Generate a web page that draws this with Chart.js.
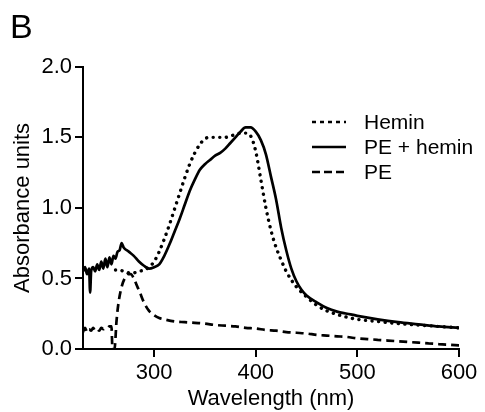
<!DOCTYPE html>
<html>
<head>
<meta charset="utf-8">
<script src="https://cdn.jsdelivr.net/npm/chart.js@4/dist/chart.umd.min.js"></script>
<style>
    body { margin: 0; background: #fff; }
</style>
</head>
<body>
<div id="container">
    <canvas id="SpectraChart" width="485" height="412"></canvas>
</div>

<script>
    // absorbance spectra (wavelength in nm)
    var seriesNames = ['Hemin', 'PE + hemin', 'PE'];

    var heminWl = [262, 266, 270, 275, 280, 285, 290, 295, 300, 305, 310, 315, 320, 325, 330, 335, 340, 345, 350, 355,
        360, 365, 370, 375, 380, 385, 390, 395, 400, 405, 410, 415, 420, 425, 430, 435, 440, 450, 460, 470,
        480, 490, 500, 520, 540, 560, 580, 600];
    var heminAbs = [0.56, 0.56, 0.55, 0.54, 0.54, 0.55, 0.56, 0.58, 0.62, 0.69, 0.78, 0.88, 0.99, 1.10, 1.21, 1.31, 1.39, 1.45, 1.49, 1.50,
        1.50, 1.50, 1.50, 1.51, 1.52, 1.53, 1.53, 1.51, 1.40, 1.20, 1.00, 0.84, 0.72, 0.63, 0.55, 0.49, 0.44, 0.37, 0.31, 0.27,
        0.245, 0.225, 0.21, 0.195, 0.18, 0.17, 0.16, 0.15];

    var peHeminWl = [230, 232, 234, 236, 237, 238, 240, 242, 244, 246, 248, 250, 252, 254, 256, 258, 260, 262, 264, 266,
        268, 270, 275, 280, 285, 290, 295, 300, 305, 310, 315, 320, 325, 330, 335, 340, 345, 350, 355, 360,
        365, 370, 375, 380, 385, 390, 395, 400, 405, 410, 415, 420, 425, 430, 435, 440, 445, 450, 460, 470,
        480, 490, 500, 520, 540, 560, 580, 600];
    var peHeminAbs = [0.55, 0.58, 0.53, 0.57, 0.40, 0.55, 0.58, 0.55, 0.60, 0.56, 0.62, 0.57, 0.64, 0.58, 0.65, 0.60, 0.66, 0.64, 0.69, 0.70,
        0.75, 0.72, 0.69, 0.66, 0.62, 0.59, 0.57, 0.58, 0.60, 0.66, 0.74, 0.83, 0.92, 1.02, 1.12, 1.20, 1.27, 1.31, 1.34, 1.37,
        1.39, 1.42, 1.46, 1.50, 1.54, 1.57, 1.57, 1.54, 1.48, 1.38, 1.22, 1.06, 0.86, 0.70, 0.57, 0.48, 0.42, 0.38, 0.33, 0.29,
        0.265, 0.25, 0.235, 0.21, 0.19, 0.175, 0.16, 0.15];

    var peWl = [230, 232, 234, 236, 238, 240, 242, 244, 246, 248, 250, 252, 254, 256, 258, 259, 261, 263, 265, 268,
        271, 274, 277, 280, 283, 286, 290, 295, 300, 305, 310, 320, 330, 340, 350, 360, 370, 380, 390, 400,
        410, 420, 430, 440, 450, 460, 470, 480, 490, 500, 510, 520, 530, 540, 550, 560, 570, 580, 590, 600];
    var peAbs = [0.12, 0.15, 0.12, 0.14, 0.13, 0.15, 0.13, 0.14, 0.13, 0.15, 0.14, 0.15, 0.15, 0.16, 0.16, 0.0, 0.0, 0.2, 0.33, 0.44,
        0.50, 0.53, 0.53, 0.50, 0.45, 0.40, 0.33, 0.27, 0.24, 0.22, 0.21, 0.195, 0.19, 0.185, 0.18, 0.17, 0.165, 0.16, 0.15, 0.145,
        0.135, 0.13, 0.12, 0.115, 0.11, 0.10, 0.095, 0.09, 0.085, 0.075, 0.07, 0.065, 0.06, 0.055, 0.05, 0.045, 0.04, 0.035, 0.03, 0.025];

    var xTicks = [300, 400, 500, 600];

    function pts(xs, ys) {
        return xs.map(function (x, i) { return { x: x, y: ys[i] }; });
    }

    Chart.defaults.font.family = '"Liberation Sans", Arial, sans-serif';
    Chart.defaults.color = '#000';

    // legend drawn inside the plot, top right
    var innerLegend = {
        id: 'innerLegend',
        afterDraw: function (chart) {
            var ctx = chart.ctx;
            ctx.save();
            ctx.font = '21px "Liberation Sans", Arial, sans-serif';
            ctx.textBaseline = 'middle';
            ctx.fillStyle = '#000';
            chart.data.datasets.forEach(function (ds, i) {
                var y = 122 + i * 25;
                ctx.beginPath();
                ctx.strokeStyle = '#000';
                ctx.lineWidth = ds.legendWidth;
                ctx.setLineDash(ds.legendDash);
                ctx.moveTo(312, y);
                ctx.lineTo(346, y);
                ctx.stroke();
                ctx.setLineDash([]);
                ctx.fillText(ds.label, 364, y + 1);
            });
            ctx.restore();
        }
    };

    var ctxS = document.getElementById('SpectraChart').getContext('2d');
    var spectraChart = new Chart(ctxS, {
        type: 'line',
        data: {
            datasets: [
                {
                    label: seriesNames[0],
                    data: pts(heminWl, heminAbs),
                    borderColor: '#000',
                    borderWidth: 3.4,
                    borderDash: [0.1, 6.5],
                    borderCapStyle: 'round',
                    legendDash: [4, 4],
                    legendWidth: 2.5
                },
                {
                    label: seriesNames[1],
                    data: pts(peHeminWl, peHeminAbs),
                    borderColor: '#000',
                    borderWidth: 2.7,
                    borderDash: [],
                    legendDash: [],
                    legendWidth: 2.7
                },
                {
                    label: seriesNames[2],
                    data: pts(peWl, peAbs),
                    borderColor: '#000',
                    borderWidth: 2.7,
                    borderDash: [8, 5],
                    legendDash: [8, 4],
                    legendWidth: 2.7
                }
            ]
        },
        options: {
            responsive: false,
            animation: false,
            cubicInterpolationMode: 'monotone',
            pointRadius: 0,
            layout: { padding: { left: 10, right: 26, top: 0, bottom: 0 } },
            elements: { point: { radius: 0 } },
            plugins: {
                legend: { display: false },
                tooltip: { enabled: false },
                title: {
                    display: true,
                    text: 'B',
                    align: 'start',
                    font: { size: 34, weight: 'normal' },
                    padding: { top: 8, bottom: 18 }
                }
            },
            scales: {
                x: {
                    type: 'linear',
                    min: 230,
                    max: 600,
                    afterBuildTicks: function (scale) {
                        scale.ticks = xTicks.map(function (v) { return { value: v }; });
                    },
                    afterFit: function (scale) { scale.height = 63; },
                    ticks: { font: { size: 22 }, padding: 3, maxRotation: 0 },
                    grid: { drawOnChartArea: false, drawTicks: true, tickLength: 8, color: '#000', lineWidth: 2 },
                    border: { display: true, color: '#000', width: 2 },
                    title: { display: true, text: 'Wavelength (nm)', font: { size: 22 }, padding: { top: 0, bottom: 0 } }
                },
                y: {
                    min: 0,
                    max: 2,
                    afterFit: function (scale) { scale.width = 73; },
                    ticks: {
                        stepSize: 0.5,
                        font: { size: 22 },
                        padding: 3,
                        callback: function (v) { return v.toFixed(1); }
                    },
                    grid: { drawOnChartArea: false, drawTicks: true, tickLength: 8, color: '#000', lineWidth: 2 },
                    border: { display: true, color: '#000', width: 2 },
                    title: { display: true, text: 'Absorbance units', font: { size: 22 }, padding: { top: 0, bottom: 0 } }
                }
            }
        },
        plugins: [innerLegend]
    });
</script>
</body>
</html>
